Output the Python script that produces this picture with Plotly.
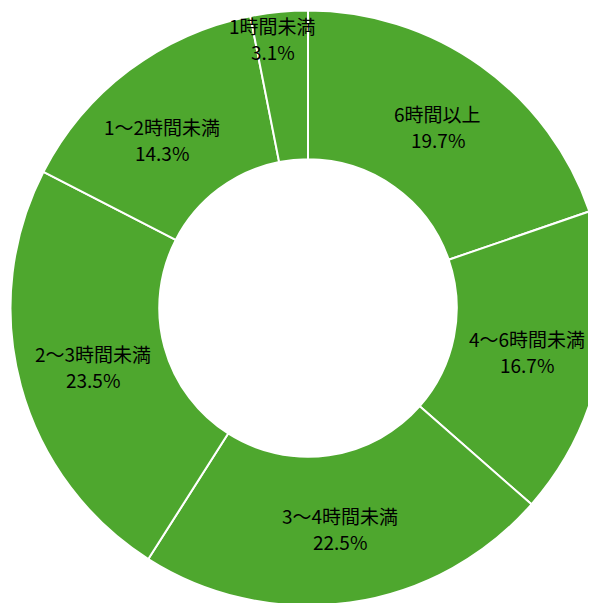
import math
import plotly.graph_objects as go

labels = ["6時間以上", "4～6時間未満", "3～4時間未満", "2～3時間未満", "1～2時間未満", "1時間未満"]
values = [19.7, 16.7, 22.5, 23.5, 14.3, 3.1]

# label placement tweaks (style): radial factor of ring mid radius, angular offset in degrees
label_radius_factor = [1.0, 1.0, 1.0, 1.0, 1.0, 1.22]
label_angle_offset = [0, 0, 0, 0, -4, -1.8]

GREEN = "#4EA72E"
HOLE = 0.5
W, H = 600, 600
R = 297.5  # outer radius in px
CX, CY = W / 2, H / 2

fig = go.Figure(go.Pie(
    labels=labels,
    values=values,
    hole=HOLE,
    sort=False,
    direction="clockwise",
    rotation=0,
    marker=dict(colors=[GREEN] * len(values), line=dict(color="white", width=2)),
    textinfo="none",
    hoverinfo="label+value",
    showlegend=False,
    domain=dict(x=[(CX - R) / W, (CX + R) / W], y=[(CY - R) / H, (CY + R) / H]),
))

total = sum(values)
mid_r = R * (1 + HOLE) / 2
cum = 0.0
annotations = []
for lab, val, f, da in zip(labels, values, label_radius_factor, label_angle_offset):
    mid = (cum + val / 2) / total * 2 * math.pi + math.radians(da)
    cum += val
    r = mid_r * f
    px = CX + r * math.sin(mid)
    py = CY - r * math.cos(mid)
    x = px / W
    y = 1 - py / H
    font = dict(family="Noto Sans CJK JP, sans-serif", size=19, color="black")
    common = dict(x=x, y=y, xref="paper", yref="paper", showarrow=False,
                  xanchor="center", yanchor="middle", font=font)
    annotations.append(dict(text=lab, yshift=13, **common))
    annotations.append(dict(text=f"{val:.1f}%", yshift=-13, **common))

fig.update_layout(
    width=W, height=H,
    margin=dict(l=0, r=0, t=0, b=0),
    paper_bgcolor="white",
    plot_bgcolor="white",
    annotations=annotations,
)

fig.write_html("out.html")
